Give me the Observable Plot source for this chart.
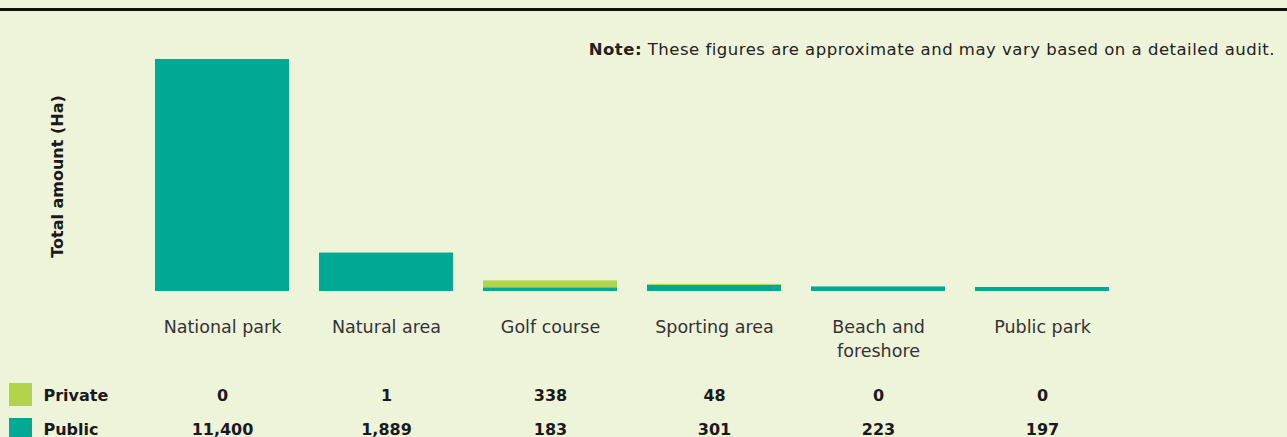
<!DOCTYPE html>
<html>
<head>
<meta charset="utf-8">
<script src="https://cdn.jsdelivr.net/npm/d3@7"></script>
<script src="https://cdn.jsdelivr.net/npm/@observablehq/plot@0.6"></script>
<style>
  html, body { margin: 0; padding: 0; background: #EEF4D9; }
  #wrap { position: relative; width: 1287px; height: 437px; overflow: hidden; font-family: "DejaVu Sans", sans-serif; }
  #topline { position: absolute; left: 0; top: 8px; width: 1287px; height: 3px; background: #111; }
  #note { position: absolute; right: 12px; top: 40px; font-size: 16.5px; letter-spacing: 0.5px; color: #222; white-space: nowrap; }
  .sw { position: absolute; left: 9px; width: 23px; height: 23px; }
  svg { position: absolute; left: 0; top: 0; }
</style>
</head>
<body>
<div id="wrap">
  <div id="topline"></div>
  <div id="note"><b>Note:</b> These figures are approximate and may vary based on a detailed audit.</div>
</div>
<script>
const categories = ["National park", "Natural area", "Golf course", "Sporting area", "Beach and foreshore", "Public park"];
const tickLabels = ["National park", "Natural area", "Golf course", "Sporting area", "Beach and\nforeshore", "Public park"];
const privateValues = [0, 1, 338, 48, 0, 0];
const publicValues = [11400, 1889, 183, 301, 223, 197];
const seriesNames = ["Public", "Private"];
const seriesColors = ["#00A994", "#B3D44A"];

const rows = [];
categories.forEach((c, i) => {
  rows.push({category: c, series: "Public", value: publicValues[i]});
  rows.push({category: c, series: "Private", value: privateValues[i]});
});
const labelRows = categories.map((c, i) => ({category: c, label: tickLabels[i], priv: privateValues[i], pub: publicValues[i]}));
const fmt = d3.format(",");

const chart = Plot.plot({
  width: 1287,
  height: 437,
  marginLeft: 139,
  marginRight: 161,
  marginTop: 59,
  marginBottom: 146,
  style: {background: "transparent", fontFamily: "'DejaVu Sans', sans-serif"},
  x: {domain: categories, paddingInner: 0.18, paddingOuter: 0.09, axis: null},
  y: {domain: [0, 11400], axis: null},
  color: {domain: seriesNames, range: seriesColors},
  marks: [
    Plot.barY(rows, {x: "category", y: "value", fill: "series", order: seriesNames}),
    Plot.text(labelRows, {x: "category", text: "label", frameAnchor: "bottom", dy: 24, lineAnchor: "top", lineHeight: 1.38, fontSize: 17.5, fill: "#333", style: {letterSpacing: "0.3px"}}),
    Plot.text(labelRows, {x: "category", text: d => fmt(d.priv), frameAnchor: "bottom", dy: 104, lineAnchor: "middle", fontSize: 16, fontWeight: "bold", fill: "#1a1a1a"}),
    Plot.text(labelRows, {x: "category", text: d => fmt(d.pub), frameAnchor: "bottom", dy: 138, lineAnchor: "middle", fontSize: 16, fontWeight: "bold", fill: "#1a1a1a", style: {letterSpacing: "0.4px"}}),
    Plot.text(["Private"], {text: d => d, frameAnchor: "bottom-left", dx: -96, dy: 104, textAnchor: "start", lineAnchor: "middle", fontSize: 16, fontWeight: "bold", fill: "#1a1a1a"}),
    Plot.text(["Public"], {text: d => d, frameAnchor: "bottom-left", dx: -96, dy: 138, textAnchor: "start", lineAnchor: "middle", fontSize: 16, fontWeight: "bold", fill: "#1a1a1a"}),
    Plot.text(["Total amount (Ha)"], {text: d => d, frameAnchor: "left", dx: -82, dy: 1, rotate: -90, textAnchor: "middle", lineAnchor: "middle", fontSize: 16, fontWeight: "bold", fill: "#1a1a1a"})
  ]
});
const wrap = document.getElementById("wrap");
wrap.insertBefore(chart, wrap.firstChild);
[["Private", 383], ["Public", 418]].forEach(([name, top]) => {
  const d = document.createElement("div");
  d.className = "sw";
  d.style.top = top + "px";
  d.style.background = seriesColors[seriesNames.indexOf(name)];
  wrap.appendChild(d);
});
</script>
</body>
</html>
